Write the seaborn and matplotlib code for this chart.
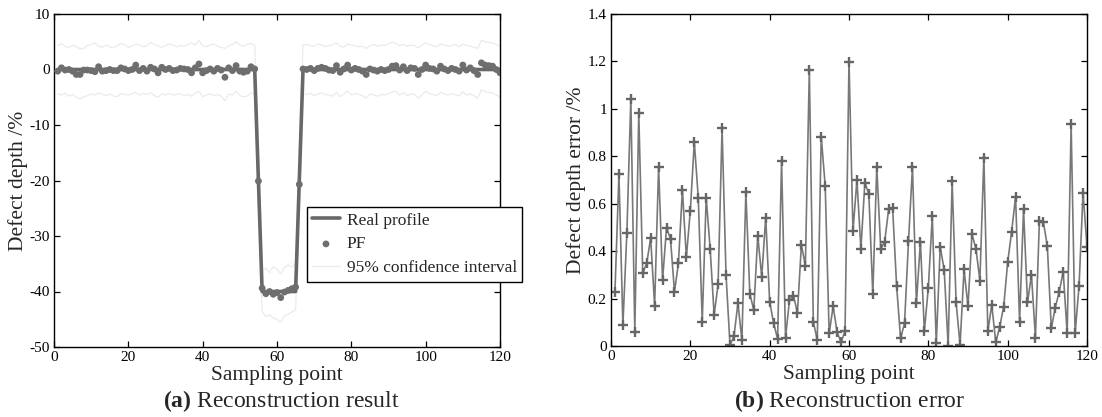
import numpy as np
import pandas as pd
import matplotlib
matplotlib.use("Agg")
import matplotlib.pyplot as plt
import seaborn as sns

# ---------------- data ----------------
samples = list(range(1, 121))

real_profile = [0.0] * 54 + [-20.0] + [-40.0] * 10 + [-20.0] + [0.0] * 54

pf_estimate = [
    -0.3, 0.3, -0.1, 0.0, -0.3, -0.9, -0.9, -0.1, -0.1, -0.2,
    -0.4, 0.5, -0.3, -0.2, 0.0, -0.2, -0.2, 0.3, 0.1, -0.2,
    0.0, 0.8, -0.2, 0.2, -0.3, 0.4, 0.1, -0.6, 0.4, 0.0,
    0.2, -0.2, -0.1, 0.2, 0.1, 0.0, -0.6, 0.3, 1.0, -0.6,
    -0.2, 0.1, -0.3, 0.2, -0.1, -1.4, 0.3, -0.2, 0.7, -0.3,
    -0.5, -0.3, 0.5, 0.1, -20.1, -39.4, -40.4, -40.0, -40.5, -40.2,
    -41.1, -40.1, -39.8, -39.5, -39.2, -20.7, 0.1, 0.0, 0.2, -0.2,
    0.2, 0.4, 0.2, -0.1, -0.2, 0.7, -0.5, 0.1, 0.8, -0.1,
    0.2, 0.0, -0.3, -0.9, 0.1, -0.1, -0.3, 0.0, -0.2, 0.0,
    0.6, 0.7, -0.1, 0.5, -0.2, 0.3, 0.2, -0.9, 0.0, 0.8,
    0.2, 0.1, -0.3, 0.6, 0.1, -0.2, 0.2, 0.0, -0.3, 0.8,
    -0.1, 0.3, -0.2, -0.9, 1.2, 0.8, 0.7, 0.6, 0.0, -0.6,
]

ci_upper = [
    4.3, 4.6, 4.2, 3.9, 4.4, 4.1, 3.7, 3.8, 4.3, 4.5,
    4.8, 4.2, 4.0, 4.4, 4.1, 3.9, 4.3, 4.7, 4.5, 4.0,
    4.2, 4.6, 4.4, 4.1, 4.3, 4.9, 4.5, 4.2, 4.0, 4.3,
    4.6, 4.4, 4.1, 4.3, 4.2, 4.5, 4.8, 4.4, 5.2, 4.3,
    4.1, 4.4, 4.6, 4.2, 4.0, 3.8, 4.3, 4.5, 5.0, 4.4,
    4.2, 4.5, 4.7, 4.4, -15.6, -36.2, -35.8, -36.6, -35.5, -36.0,
    -36.8, -35.7, -35.2, -35.6, -34.9, -16.2, 4.4, 4.5, 4.3, 4.2,
    4.6, 4.4, 4.1, 4.3, 4.5, 4.8, 4.2, 4.0, 4.6, 4.4,
    4.3, 4.1, 4.2, 3.8, 4.3, 4.5, 4.2, 4.4, 4.3, 4.6,
    4.9, 4.7, 4.3, 4.5, 4.2, 4.4, 4.3, 3.9, 4.4, 4.8,
    4.5, 4.3, 4.1, 4.6, 4.4, 4.2, 4.3, 4.5, 4.1, 4.6,
    4.3, 4.2, 4.0, 3.8, 5.3, 5.0, 4.9, 4.8, 4.5, 4.2,
]

ci_lower = [
    -4.4, -4.6, -4.3, -4.8, -4.5, -5.0, -5.3, -4.9, -4.7, -4.4,
    -4.6, -4.2, -4.5, -4.7, -4.4, -4.8, -4.9, -4.3, -4.5, -4.6,
    -4.4, -4.1, -4.6, -4.3, -4.5, -4.2, -4.7, -5.0, -4.4, -4.6,
    -4.3, -4.6, -4.5, -4.4, -4.7, -4.5, -4.8, -4.3, -3.9, -4.9,
    -4.6, -4.4, -4.7, -4.5, -4.8, -5.6, -4.4, -4.6, -3.9, -4.7,
    -4.9, -4.8, -4.2, -4.4, -24.6, -43.6, -44.5, -44.2, -44.8, -45.0,
    -45.6, -44.3, -44.1, -43.7, -43.3, -25.3, -4.4, -4.5, -4.3, -4.7,
    -4.4, -4.2, -4.5, -4.6, -4.8, -4.1, -4.9, -4.4, -3.9, -4.6,
    -4.3, -4.5, -4.7, -5.2, -4.4, -4.6, -4.8, -4.5, -4.6, -4.4,
    -4.0, -3.9, -4.6, -4.2, -4.7, -4.4, -4.5, -5.2, -4.6, -3.9,
    -4.3, -4.5, -4.7, -4.1, -4.4, -4.6, -4.4, -4.5, -4.8, -4.0,
    -4.6, -4.4, -4.7, -5.2, -3.6, -4.0, -4.1, -4.2, -4.6, -4.9,
]

depth_error = [
    0.229, 0.725, 0.089, 0.477, 1.043, 0.060, 0.983, 0.306, 0.349, 0.455,
    0.169, 0.755, 0.278, 0.499, 0.451, 0.229, 0.349, 0.659, 0.374, 0.571,
    0.860, 0.626, 0.103, 0.626, 0.409, 0.131, 0.260, 0.918, 0.299, 0.004,
    0.042, 0.180, 0.025, 0.651, 0.219, 0.152, 0.465, 0.292, 0.541, 0.186,
    0.096, 0.030, 0.780, 0.035, 0.194, 0.212, 0.141, 0.426, 0.339, 1.164,
    0.103, 0.025, 0.883, 0.676, 0.053, 0.167, 0.059, 0.015, 0.063, 1.199,
    0.485, 0.700, 0.409, 0.689, 0.641, 0.218, 0.755, 0.410, 0.440, 0.578,
    0.581, 0.254, 0.032, 0.096, 0.443, 0.755, 0.180, 0.440, 0.063, 0.246,
    0.548, 0.011, 0.419, 0.320, 0.000, 0.696, 0.184, 0.004, 0.323, 0.167,
    0.472, 0.410, 0.276, 0.794, 0.063, 0.173, 0.015, 0.082, 0.166, 0.353,
    0.482, 0.630, 0.103, 0.576, 0.184, 0.299, 0.035, 0.527, 0.523, 0.422,
    0.074, 0.162, 0.229, 0.313, 0.053, 0.936, 0.053, 0.254, 0.647, 0.419,
]

x_ticks = [0, 20, 40, 60, 80, 100, 120]
left_yticks = [-50, -40, -30, -20, -10, 0, 10]
right_yticks = [0, 0.2, 0.4, 0.6, 0.8, 1.0, 1.2, 1.4]
legend_labels = ["Real profile", "PF", "95% confidence interval"]

# ---------------- style ----------------
sns.set_style("ticks")
plt.rcParams["font.family"] = ["Liberation Serif", "DejaVu Serif"]
plt.rcParams["mathtext.fontset"] = "custom"
plt.rcParams["mathtext.rm"] = "Liberation Serif"
plt.rcParams["mathtext.bf"] = "Liberation Serif:bold"
plt.rcParams["axes.unicode_minus"] = False
plt.rcParams["axes.edgecolor"] = "black"
plt.rcParams["axes.linewidth"] = 1.0

fig = plt.figure(figsize=(11.02, 4.17), dpi=100)
axL = fig.add_axes([54 / 1102, (417 - 347) / 417, 446 / 1102, 333 / 417])
axR = fig.add_axes([611 / 1102, (417 - 346) / 417, 476 / 1102, 332 / 417])

df = pd.DataFrame({"x": samples, "real": real_profile, "pf": pf_estimate,
                   "up": ci_upper, "lo": ci_lower, "err": depth_error})

ci_color = "#ebebeb"
sns.lineplot(data=df, x="x", y="up", ax=axL, color=ci_color, lw=0.9,
             label=legend_labels[2], sort=False, zorder=1)
sns.lineplot(data=df, x="x", y="lo", ax=axL, color=ci_color, lw=0.9,
             sort=False, zorder=1)
sns.lineplot(data=df, x="x", y="real", ax=axL, color="#686868", lw=2.6,
             label=legend_labels[0], sort=False, zorder=2)
sns.scatterplot(data=df, x="x", y="pf", ax=axL, color="#6e6e6e", s=24,
                edgecolor="none", label=legend_labels[1], zorder=3)

axL.set_xlim(0, 120)
axL.set_ylim(-50, 10)
axL.set_xticks(x_ticks)
axL.set_yticks(left_yticks)
axL.set_xlabel("Sampling point", fontsize=15.5, labelpad=1)
axL.set_ylabel("Defect depth /%", fontsize=15.5, labelpad=1)

handles, labels = axL.get_legend_handles_labels()
order = [labels.index(l) for l in legend_labels]
leg = axL.legend([handles[i] for i in order], [labels[i] for i in order],
                 loc="upper left", bbox_to_anchor=(0.567, 0.42),
                 fontsize=12.5, frameon=True, fancybox=False, shadow=False,
                 borderaxespad=0, borderpad=0.3, handlelength=1.6,
                 handletextpad=0.4, labelspacing=0.45, framealpha=1)
leg.get_frame().set_edgecolor("black")
leg.get_frame().set_linewidth(1.0)

sns.lineplot(data=df, x="x", y="err", ax=axR, color="#787878", lw=1.2,
             marker="+", markersize=6.5, markeredgewidth=1.7,
             markeredgecolor="#666666", sort=False)
axR.set_xlim(0, 120)
axR.set_ylim(0, 1.4)
axR.set_xticks(x_ticks)
axR.set_yticks(right_yticks)
axR.set_yticklabels(["%g" % v for v in right_yticks])
axR.set_xlabel("Sampling point", fontsize=15.5, labelpad=1)
axR.set_ylabel("Defect depth error /%", fontsize=15.5, labelpad=1)

for ax in (axL, axR):
    ax.tick_params(direction="in", top=True, right=True, length=4,
                   width=0.9, labelsize=11, pad=3, colors="black")
    for s in ax.spines.values():
        s.set_visible(True)
        s.set_color("black")

fig.text(281 / 1102, 1 - 401 / 417, r"$\mathbf{(a)}$ Reconstruction result",
         ha="center", va="center", fontsize=17)
fig.text(850 / 1102, 1 - 401 / 417, r"$\mathbf{(b)}$ Reconstruction error",
         ha="center", va="center", fontsize=17)

fig.savefig("out.png", dpi=100)
